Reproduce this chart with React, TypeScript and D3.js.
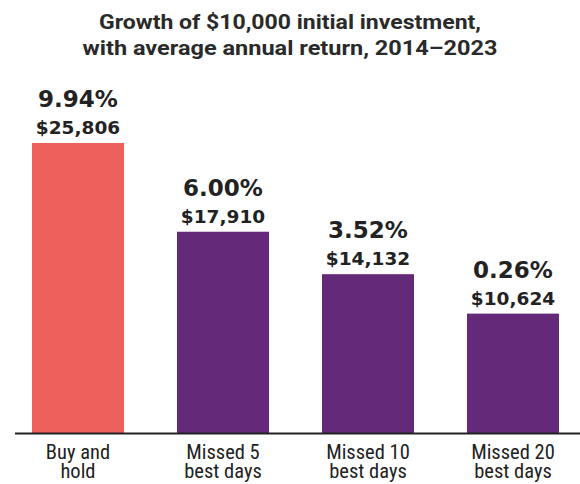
import React from "react";
import * as d3 from "d3";

const categories = [["Buy and", "hold"], ["Missed 5", "best days"], ["Missed 10", "best days"], ["Missed 20", "best days"]];
const values = [25806, 17910, 14132, 10624];
const returns = ["9.94%", "6.00%", "3.52%", "0.26%"];
const titleLines = ["Growth of $10,000 initial investment,", "with average annual return, 2014\u20132023"];
const titleWidths = [382, 415];

const W = 580, H = 484;
const COND = "'Liberation Sans Narrow', 'Roboto Condensed', 'DejaVu Sans Condensed', sans-serif";
const TITLE = "Roboto, 'Noto Sans', sans-serif";
const WIDE = "'DejaVu Sans', Verdana, sans-serif";

export default function App() {
  const keys = categories.map((c) => c.join(" "));
  const x = d3.scaleBand<string>().domain(keys).range([5.5, 585.5]).paddingInner(0.3655).paddingOuter(0.1828);
  const y = d3.scaleLinear().domain([0, 25806]).range([433, 143]);
  const fmt = d3.format("$,");
  return (
    <div style={{ position: "absolute", left: 0, top: 0 }}>
      <svg width={W} height={H} style={{ display: "block", background: "#fff" }}>
        {titleLines.map((t, i) => (
          <text key={i} x={W / 2} y={29 + i * 26} textAnchor="middle" fontFamily={TITLE} fontWeight={700} fontSize={21}
            textLength={titleWidths[i]} lengthAdjust="spacingAndGlyphs" fill="#2a2a2a">{t}</text>
        ))}
        {keys.map((k, i) => {
          const x0 = x(k)!;
          const bw = x.bandwidth();
          const top = y(values[i]);
          const cx = x0 + bw / 2;
          return (
            <g key={k}>
              <rect x={x0} y={top} width={bw} height={y(0) - top} fill={i === 0 ? "#EE605C" : "#65297A"} />
              <text x={cx} y={top - 36} textAnchor="middle" fontFamily={WIDE} fontWeight={700} fontSize={23} fill="#222">{returns[i]}</text>
              <text x={cx} y={top - 9} textAnchor="middle" fontFamily={WIDE} fontWeight={700} fontSize={18.5} fill="#222">{fmt(values[i])}</text>
              {categories[i].map((line, j) => (
                <text key={j} x={cx} y={459 + j * 18.5} textAnchor="middle" fontFamily={COND} fontSize={20.5} fill="#222">{line}</text>
              ))}
            </g>
          );
        })}
        <line x1={15} x2={580} y1={433.5} y2={433.5} stroke="#222" strokeWidth={2} />
      </svg>
    </div>
  );
}
